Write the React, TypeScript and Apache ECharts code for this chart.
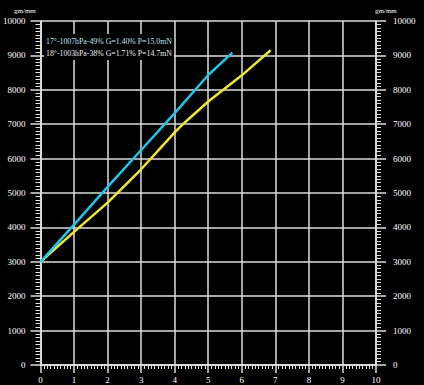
import React, { useEffect, useRef } from "react";
import * as echarts from "echarts";

const cyanData: [number, number][] = [
  [0, 3000], [1, 4080], [2, 5180], [3, 6250], [4, 7320], [5, 8430], [5.72, 9080],
];
const yellowData: [number, number][] = [
  [0, 3000], [1, 3870], [2, 4720], [3, 5690], [4, 6760], [4.3, 7050], [5, 7660], [6, 8420], [6.86, 9150],
];
const legendTexts = [
  "17°-1007hPa-49% G=1.40% P=15.0mN",
  "18°-1003hPa-38% G=1.71% P=14.7mN",
];
const unitLabel = "gm/mm";

export default function App() {
  const ref = useRef<HTMLDivElement>(null);
  useEffect(() => {
    document.body.style.margin = "0";
    document.body.style.background = "#000";
    const chart = echarts.init(ref.current!, null, { renderer: "svg" });
    const font = "Liberation Serif";
    const gridColor = "#dcdcdc";
    const yAxisCommon = {
      type: "value" as const,
      min: 0,
      max: 10000,
      interval: 1000,
      axisLine: { show: true, lineStyle: { color: "#e8e8e8", width: 1.5 } },
      axisTick: { show: true, length: 10, lineStyle: { color: gridColor, width: 1.5 } },
      minorTick: { show: true, splitNumber: 10, length: 5, lineStyle: { color: "#e0e0e0", width: 1 } },
      axisLabel: {
        color: "#fff",
        fontSize: 9,
        fontFamily: font,
        margin: 15,
        formatter: (v: number) => String(v),
      },
    };
    chart.setOption({
      animation: false,
      backgroundColor: "#000",
      grid: { left: 40, right: 48, top: 21, bottom: 20 },
      xAxis: {
        type: "value",
        min: 0,
        max: 10,
        interval: 1,
        axisLine: { show: true, lineStyle: { color: "#e8e8e8", width: 1.5 } },
        axisTick: { show: true, length: 8, lineStyle: { color: gridColor, width: 1.5 } },
        minorTick: { show: true, splitNumber: 10, length: 4, lineStyle: { color: "#e0e0e0", width: 1 } },
        splitLine: { show: true, lineStyle: { color: gridColor, width: 1.5 } },
        axisLabel: { color: "#fff", fontSize: 9, fontFamily: font, margin: 10 },
      },
      yAxis: [
        {
          ...yAxisCommon,
          position: "left",
          splitLine: { show: true, lineStyle: { color: gridColor, width: 1.5 } },
        },
        {
          ...yAxisCommon,
          position: "right",
          splitLine: { show: false },
          axisLabel: { ...yAxisCommon.axisLabel, margin: 17 },
        },
      ],
      series: [
        {
          type: "line",
          data: cyanData,
          showSymbol: false,
          lineStyle: { color: "#1ec6ee", width: 2.5 },
          z: 5,
        },
        {
          type: "line",
          data: yellowData,
          showSymbol: false,
          lineStyle: { color: "#f2e82a", width: 2.5 },
          z: 4,
        },
      ],
      graphic: [
        {
          type: "text",
          left: 14,
          top: 7,
          z: 100,
          style: { text: unitLabel, fill: "#fff", fontSize: 7, fontFamily: font },
        },
        {
          type: "text",
          left: 375,
          top: 7,
          z: 100,
          style: { text: unitLabel, fill: "#fff", fontSize: 7, fontFamily: font },
        },
        {
          type: "text",
          x: 44,
          y: 41,
          z: 100,
          style: {
            text: legendTexts[0],
            fill: "#bfe6f5",
            fontSize: 7.8,
            fontFamily: font,
            verticalAlign: "middle",
            backgroundColor: "#000",
            padding: [3, 2],
          },
        },
        {
          type: "text",
          x: 44,
          y: 53,
          z: 100,
          style: {
            text: legendTexts[1],
            fill: "#ececec",
            fontSize: 7.8,
            fontFamily: font,
            verticalAlign: "middle",
            backgroundColor: "#000",
            padding: [3, 2],
          },
        },
      ],
    });
    return () => chart.dispose();
  }, []);
  return <div ref={ref} style={{ width: 424, height: 385, background: "#000" }} />;
}
